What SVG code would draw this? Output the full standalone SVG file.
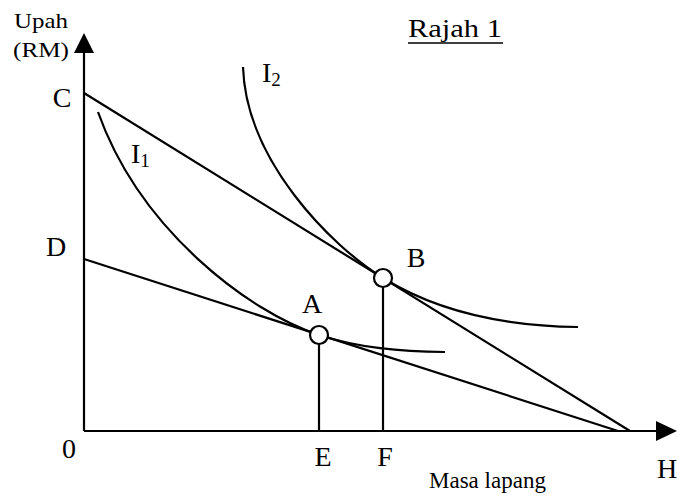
<svg xmlns="http://www.w3.org/2000/svg" width="677" height="498" viewBox="0 0 677 498">
<style>
text{font-family:"Liberation Serif","Times New Roman",serif;fill:#000}
.lbl{font-size:28px}
.sm{font-size:23px}
.sub{font-size:19px}
.ln{stroke:#000;stroke-width:2.2;fill:none}
.pt{stroke:#000;stroke-width:2.2;fill:#fff}
</style>
<rect width="677" height="498" fill="#fff"/>
<g id="axes">
<line class="ln" x1="84" y1="431" x2="84" y2="50"/>
<polygon points="84,33 74,53 94,53" fill="#000"/>
<line class="ln" x1="84" y1="431" x2="658" y2="431"/>
<polygon points="677,431 656,421 656,441" fill="#000"/>
</g>
<g id="connectors">
<line id="lineC" class="ln" x1="84" y1="93" x2="630" y2="431"/>
<line id="lineD" class="ln" x1="84" y1="259" x2="618" y2="431"/>
<path id="I1" class="ln" d="M98,112 C140,230 249,312 319,335 C359,348 400,351.5 445,352"/>
<path id="I2" class="ln" d="M243,67 C246,160 330,245 383,278 C433,309 500,326 578,327"/>
<line id="dropE" class="ln" x1="319" y1="344" x2="319" y2="431"/>
<line id="dropF" class="ln" x1="383" y1="287" x2="383" y2="431"/>
</g>
<g id="pointA"><circle class="pt" cx="319" cy="335" r="9"/><text class="lbl" x="312" y="313" text-anchor="middle">A</text></g>
<g id="pointB"><circle class="pt" cx="383" cy="278" r="9"/><text class="lbl" x="416" y="267" text-anchor="middle">B</text></g>
<g id="labels">
<text x="14" y="28" font-size="22" textLength="54" lengthAdjust="spacingAndGlyphs">Upah</text>
<text x="13" y="57" font-size="22" textLength="56" lengthAdjust="spacingAndGlyphs">(RM)</text>
<text class="lbl" x="62" y="107" text-anchor="middle">C</text>
<text class="lbl" x="56" y="256" text-anchor="middle">D</text>
<text class="lbl" x="69" y="458" text-anchor="middle">0</text>
<text class="lbl" x="323" y="466" text-anchor="middle">E</text>
<text class="lbl" x="385" y="466" text-anchor="middle">F</text>
<text class="lbl" x="667" y="478" text-anchor="middle">H</text>
<text class="sm" x="429" y="488">Masa lapang</text>
<text class="lbl" x="131" y="163">I<tspan class="sub" dy="4">1</tspan></text>
<text class="lbl" x="262" y="82">I<tspan class="sub" dy="4">2</tspan></text>
<text x="408" y="37" font-size="25" textLength="94" lengthAdjust="spacingAndGlyphs">Rajah 1</text>
<line x1="408" y1="43" x2="503" y2="43" stroke="#000" stroke-width="1.6"/>
</g>
</svg>
